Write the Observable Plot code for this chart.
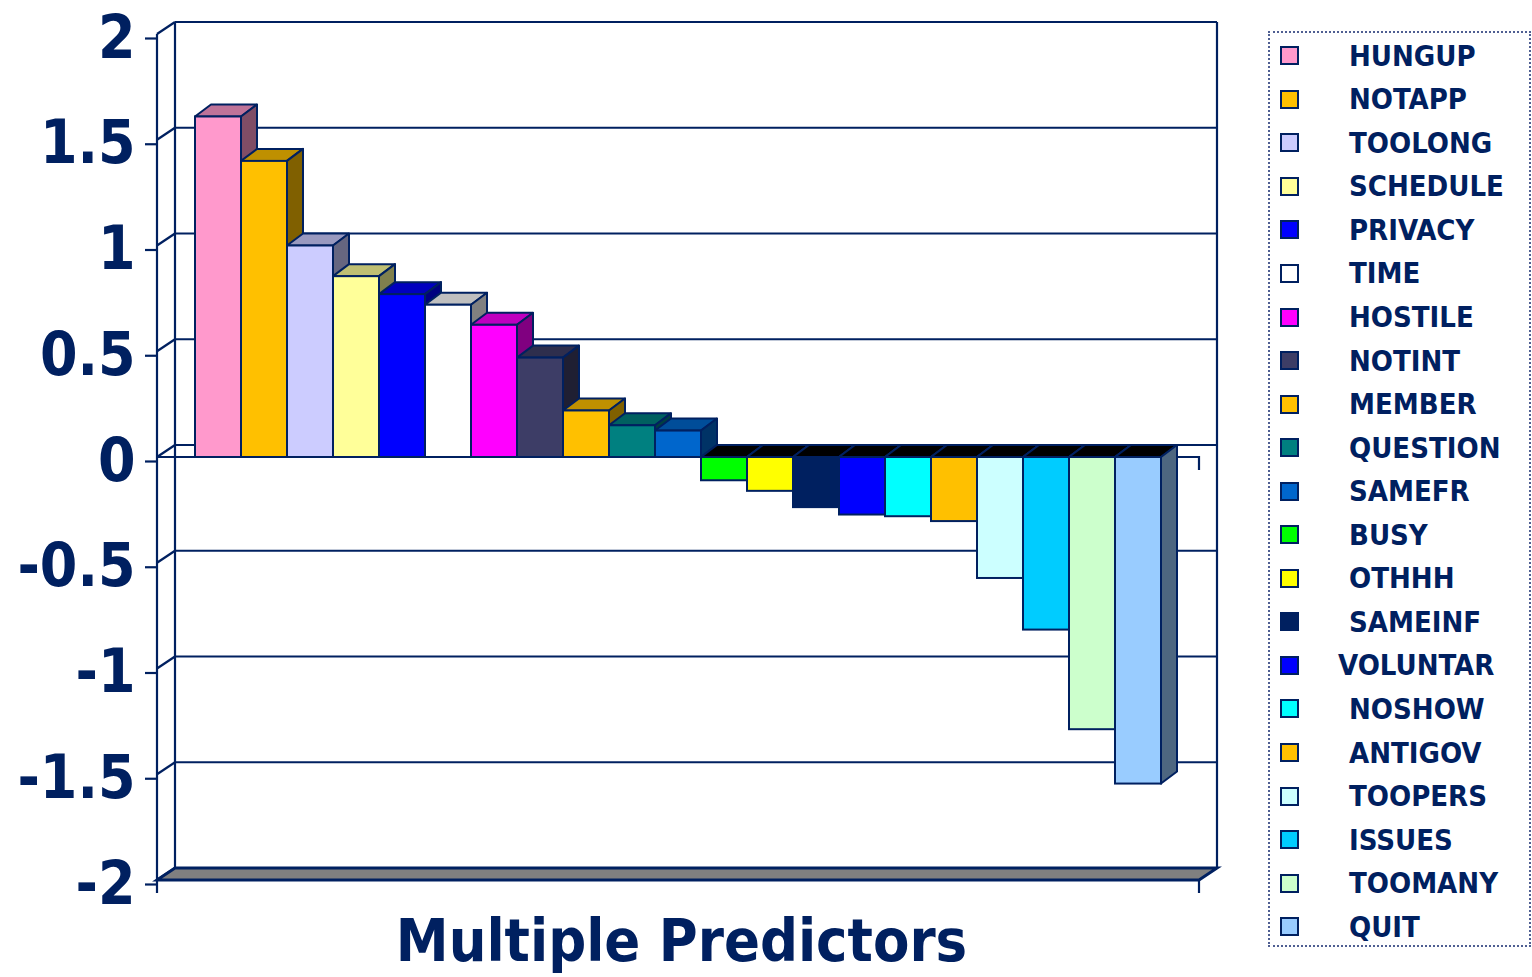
<!DOCTYPE html>
<html>
<head>
<meta charset="utf-8">
<script src="https://cdn.jsdelivr.net/npm/d3@7"></script>
<script src="https://cdn.jsdelivr.net/npm/@observablehq/plot@0.6"></script>
<style>
  html, body { margin: 0; padding: 0; background: #fff; }
  #chart { position: relative; width: 1532px; height: 977px; overflow: hidden; }
  #chart svg { position: absolute; left: 0; top: 0; }
  .legend {
    position: absolute; left: 1268px; top: 31px; width: 263px; height: 916px;
    box-sizing: border-box; border: 2px dotted #4f5f92; background: #fff;
    font-family: "DejaVu Sans Condensed", "DejaVu Sans", sans-serif;
    font-stretch: condensed; font-weight: bold; font-size: 29px; color: #002060;
  }
  .legend .item { position: absolute; left: 10px; height: 40px; display: flex; align-items: center; white-space: nowrap; }
  .legend .swatch { width: 19px; height: 19px; box-sizing: border-box; border: 2.5px solid #002060; margin-right: 50px; flex: none; }
</style>
</head>
<body>
<div id="chart"></div>
<script>
// Predictor coefficients, in the order they are plotted and listed
const predictors = [
  "HUNGUP", "NOTAPP", "TOOLONG", "SCHEDULE", "PRIVACY", "TIME", "HOSTILE",
  "NOTINT", "MEMBER", "QUESTION", "SAMEFR", "BUSY", "OTHHH", "SAMEINF",
  "VOLUNTAR", "NOSHOW", "ANTIGOV", "TOOPERS", "ISSUES", "TOOMANY", "QUIT"
];
const coefficients = [
  1.61, 1.40, 1.00, 0.855, 0.77, 0.72, 0.625,
  0.47, 0.22, 0.15, 0.125, -0.11, -0.16, -0.237,
  -0.272, -0.28, -0.303, -0.572, -0.816, -1.287, -1.544
];
const barColors = [
  "#FF99CC", "#FFC000", "#CCCCFF", "#FFFF99", "#0000FF", "#FFFFFF", "#FF00FF",
  "#3D3D66", "#FFC000", "#008080", "#0066CC", "#00FF00", "#FFFF00", "#002060",
  "#0000FF", "#00FFFF", "#FFC000", "#CCFFFF", "#00CCFF", "#CCFFCC", "#99CCFF"
];
const yTicks = [-2, -1.5, -1, -0.5, 0, 0.5, 1, 1.5, 2];
const xTitle = "Multiple Predictors";

const rows = predictors.map((predictor, i) => ({predictor, value: coefficients[i], color: barColors[i]}));

const navy = "#002060";
const WALL_DX = 18, WALL_DY = -12;   // depth of the back wall
const BAR_DX = 16, BAR_DY = -12;     // depth of each column
const shade = (c, k) => { const r = d3.rgb(c); return d3.rgb(r.r * k, r.g * k, r.b * k).formatHex(); };

// Back wall, left wall edges, floor slab and the front axis lines
function walls() {
  return Plot.ruleY(yTicks, {
    y: d => d,
    render(index, scales, values, dims) {
      const {y} = scales;
      const L = dims.marginLeft, R = dims.width - dims.marginRight;
      const T = dims.marginTop, B = dims.height - dims.marginBottom;
      const g = d3.create("svg:g").attr("stroke", navy).attr("stroke-width", 2.2).attr("fill", "none");
      for (const t of yTicks) {
        const yy = y(t);
        g.append("line").attr("x1", L + WALL_DX).attr("x2", R + WALL_DX).attr("y1", yy + WALL_DY).attr("y2", yy + WALL_DY);
        g.append("line").attr("x1", L).attr("x2", L + WALL_DX).attr("y1", yy).attr("y2", yy + WALL_DY);
      }
      g.append("line").attr("x1", L + WALL_DX).attr("x2", L + WALL_DX).attr("y1", T + WALL_DY).attr("y2", B + WALL_DY);
      g.append("line").attr("x1", R + WALL_DX).attr("x2", R + WALL_DX).attr("y1", T + WALL_DY).attr("y2", B + WALL_DY);
      // floor
      g.append("path").attr("fill", "#808080").attr("stroke-width", 3)
        .attr("d", `M${L},${B}L${R},${B}L${R + WALL_DX},${B + WALL_DY}L${L + WALL_DX},${B + WALL_DY}Z`);
      // front vertical axis and category ticks below the floor
      g.append("line").attr("x1", L).attr("x2", L).attr("y1", T).attr("y2", B + 13);
      g.append("line").attr("x1", R).attr("x2", R).attr("y1", B).attr("y2", B + 13);
      // front zero line with its end tick
      const y0 = y(0);
      g.append("path").attr("d", `M${L},${y0}L${R},${y0}L${R},${y0 + 13}`);
      return g.node();
    }
  });
}

// Top and side faces of the columns, painted left to right
function columnDepth(data) {
  return Plot.barY(data, {
    x: "predictor", y: "value",
    render(index, scales) {
      const {x, y} = scales;
      const step = x(data[1].predictor) - x(data[0].predictor);
      const y0 = y(0);
      const g = d3.create("svg:g").attr("stroke", navy).attr("stroke-width", 2).attr("stroke-linejoin", "round");
      for (const i of index) {
        const d = data[i];
        const xl = x(d.predictor), xr = xl + step, yv = y(d.value);
        const top = d.value >= 0 ? yv : y0;
        g.append("path")
          .attr("fill", d.value >= 0 ? shade(d.color, 0.75) : "#000")
          .attr("d", `M${xl},${top}L${xr},${top}L${xr + BAR_DX},${top + BAR_DY}L${xl + BAR_DX},${top + BAR_DY}Z`);
        const ya = Math.min(yv, y0), yb = Math.max(yv, y0);
        g.append("path")
          .attr("fill", shade(d.color, 0.5))
          .attr("d", `M${xr},${ya}L${xr + BAR_DX},${ya + BAR_DY}L${xr + BAR_DX},${yb + BAR_DY}L${xr},${yb}Z`);
      }
      return g.node();
    }
  });
}

const chart = Plot.plot({
  width: 1532,
  height: 977,
  marginLeft: 157,
  marginRight: 333,
  marginTop: 34,
  marginBottom: 97,
  style: {
    fontFamily: '"DejaVu Sans Condensed", "DejaVu Sans", sans-serif',
    fontStretch: "condensed",
    fontWeight: "bold",
    color: navy,
    background: "transparent",
    overflow: "visible"
  },
  x: {type: "band", domain: predictors, paddingInner: 0, paddingOuter: 0.72, axis: null},
  y: {domain: [-2, 2], axis: null},
  color: {type: "identity"},
  marks: [
    walls(),
    columnDepth(rows),
    Plot.barY(rows, {x: "predictor", y: "value", fill: "color", stroke: navy, strokeWidth: 2, inset: 0}),
    Plot.axisY(yTicks, {
      tickSize: 12, tickPadding: 10, tickFormat: d => String(d),
      fontSize: 60, stroke: navy, strokeWidth: 2.2, dy: 4, label: null
    }),
    Plot.text([xTitle], {
      frameAnchor: "bottom", lineAnchor: "middle", dy: 62, dx: 3,
      fontSize: 59, fill: navy, text: d => d
    })
  ]
});

const host = document.getElementById("chart");
host.appendChild(chart);

// Legend box on the right
const legend = document.createElement("div");
legend.className = "legend";
predictors.forEach((name, i) => {
  const item = document.createElement("div");
  item.className = "item";
  item.style.top = (22.7 + i * 43.55 - 20) + "px";
  const sw = document.createElement("span");
  sw.className = "swatch";
  sw.style.background = barColors[i];
  const label = document.createElement("span");
  label.textContent = name;
  if (name === "VOLUNTAR") label.style.marginLeft = "-11px";
  item.appendChild(sw);
  item.appendChild(label);
  legend.appendChild(item);
});
host.appendChild(legend);
</script>
</body>
</html>
